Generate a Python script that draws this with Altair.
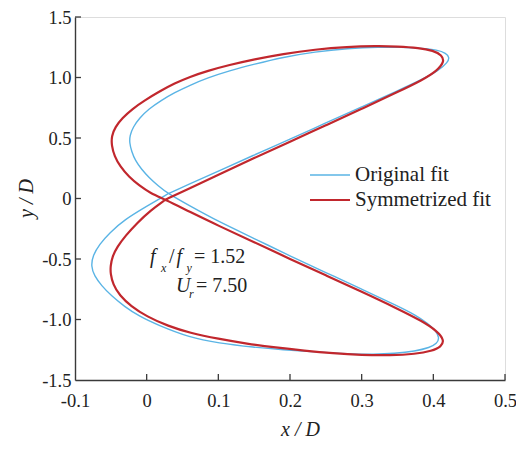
import altair as alt
import pandas as pd

# ---------------- data ----------------
series_names = ["Original fit", "Symmetrized fit"]
series_colors = ["#5AB4E5", "#C1272D"]
series_widths = [1.4, 2.2]

orig_x = [0.030, 0.060, 0.100, 0.150, 0.200, 0.250, 0.300, 0.350, 0.385, 0.408, 0.420, 0.4226,
          0.418, 0.405, 0.385, 0.355, 0.325, 0.280, 0.235, 0.190, 0.150, 0.115, 0.085, 0.060,
          0.039, 0.020, 0.003, -0.010, -0.019, -0.0235, -0.024, -0.021, -0.016, -0.007, 0.003,
          0.016, 0.030,
          0.060, 0.100, 0.150, 0.200, 0.250, 0.300, 0.350, 0.375, 0.392, 0.403, 0.4087,
          0.405, 0.395, 0.375, 0.345, 0.318, 0.280, 0.235, 0.190, 0.150, 0.100, 0.060, 0.015,
          -0.010, -0.031, -0.050, -0.063, -0.073, -0.0777, -0.075, -0.066, -0.052, -0.031,
          0.000, 0.030]
orig_y = [0.040, 0.120, 0.225, 0.360, 0.490, 0.625, 0.757, 0.890, 0.985, 1.060, 1.125, 1.165,
          1.202, 1.228, 1.242, 1.250, 1.252, 1.240, 1.212, 1.168, 1.110, 1.055, 0.997, 0.935,
          0.875, 0.810, 0.740, 0.665, 0.590, 0.520, 0.460, 0.390, 0.315, 0.240, 0.175,
          0.105, 0.040,
          -0.060, -0.190, -0.330, -0.475, -0.612, -0.748, -0.888, -0.962, -1.030, -1.090, -1.150,
          -1.200, -1.232, -1.262, -1.281, -1.288, -1.284, -1.268, -1.250, -1.230, -1.195, -1.150, -1.045,
          -0.975, -0.893, -0.800, -0.720, -0.640, -0.560, -0.470, -0.380, -0.285, -0.175,
          -0.065, 0.040]

sym_x = [0.026, 0.060, 0.100, 0.150, 0.200, 0.250, 0.300, 0.350, 0.385, 0.405, 0.4155,
         0.412, 0.400, 0.380, 0.350, 0.320, 0.280, 0.235, 0.190, 0.150, 0.115, 0.085, 0.060,
         0.039, 0.018, -0.003, -0.020, -0.034, -0.044, -0.049, -0.049, -0.045, -0.037, -0.025,
         -0.010, 0.005, 0.026,
         0.060, 0.100, 0.150, 0.200, 0.250, 0.300, 0.350, 0.385, 0.405, 0.4155,
         0.411, 0.398, 0.375, 0.340, 0.300, 0.260, 0.220, 0.180, 0.140, 0.100, 0.060, 0.030,
         0.000, -0.022, -0.038, -0.047, -0.0505, -0.0505, -0.048, -0.041, -0.030, -0.013,
         0.005, 0.026]
sym_y = [-0.010, 0.085, 0.195, 0.335, 0.470, 0.605, 0.740, 0.880, 0.980, 1.055, 1.130,
         1.185, 1.222, 1.245, 1.257, 1.260, 1.254, 1.232, 1.195, 1.150, 1.103, 1.055, 1.005,
         0.952, 0.885, 0.810, 0.740, 0.665, 0.590, 0.515, 0.440, 0.350, 0.265, 0.180,
         0.105, 0.045, -0.010,
         -0.110, -0.225, -0.360, -0.500, -0.635, -0.770, -0.910, -1.015, -1.095, -1.170,
         -1.225, -1.260, -1.285, -1.297, -1.294, -1.280, -1.258, -1.232, -1.200, -1.160, -1.110, -1.055,
         -0.975, -0.890, -0.800, -0.710, -0.620, -0.560, -0.480, -0.400, -0.310, -0.200,
         -0.100, -0.010]

x_ticks = [0, 0.1, 0.2, 0.3, 0.4, 0.5]
y_ticks = [-1.0, -0.5, 0, 0.5, 1.0, 1.5]
x_labels = [-0.1, 0, 0.1, 0.2, 0.3, 0.4, 0.5]
y_labels = [-1.5, -1.0, -0.5, 0, 0.5, 1.0, 1.5]

ann_text = ["f", "x", "/", "f", "y", "= 1.52", "U", "r", "= 7.50"]
ann_x = [0.0046, 0.0200, 0.0312, 0.0416, 0.0556, 0.0660, 0.0409, 0.0590, 0.0688]
ann_y = [-0.536, -0.605, -0.536, -0.536, -0.605, -0.536, -0.770, -0.822, -0.770]
ann_kind = ["it", "sub", "up", "it", "sub", "up", "it", "sub", "up"]

# ---------------- layout / style ----------------
PW, PH = 430, 363
FONT = "Liberation Serif"
AXC = "#3a3a3a"
TICK = 6

XS = alt.Scale(domain=[-0.1, 0.5], nice=False, zero=False)
YS = alt.Scale(domain=[-1.5, 1.5], nice=False, zero=False)

lab = "datum.value == 0 ? '0' : (datum.value < 0 ? '-' : '') + format(abs(datum.value), '.1f')"

XAX = alt.Axis(values=x_labels, labelExpr=lab, ticks=False, tickSize=0, grid=False,
               domainColor=AXC, domainWidth=1.4, labelFont=FONT, labelFontSize=18.5,
               labelColor="#222", labelPadding=11, labelFlush=False,
               title="x / D", titleFont=FONT, titleFontStyle="italic", titleFontWeight="normal",
               titleFontSize=20, titleColor="#222", titleX=225, titleY=55,
               titleBaseline="alphabetic", titleAlign="center")
YAX = alt.Axis(values=y_labels, labelExpr=lab, ticks=False, tickSize=0, grid=False,
               domainColor=AXC, domainWidth=1.4, labelFont=FONT, labelFontSize=18.5,
               labelColor="#222", labelPadding=4, labelFlush=False,
               title="y / D", titleFont=FONT, titleFontStyle="italic", titleFontWeight="normal",
               titleFontSize=20, titleColor="#222", titleX=-43, titleY=181, titleAngle=-90,
               titleBaseline="alphabetic", titleAlign="center")


def X(field):
    return alt.X(field, type="quantitative", scale=XS, axis=XAX)


def Y(field):
    return alt.Y(field, type="quantitative", scale=YS, axis=YAX)


layers = []
for name, xs, ys, col, w in zip(series_names, [orig_x, sym_x], [orig_y, sym_y],
                                series_colors, series_widths):
    df = pd.DataFrame({"x": xs, "y": ys, "i": list(range(len(xs)))})
    layers.append(
        alt.Chart(df).mark_line(color=col, strokeWidth=w, interpolate="basis")
        .encode(x=X("x"), y=Y("y"), order=alt.Order("i:Q"))
    )

# inward ticks
layers.append(
    alt.Chart(pd.DataFrame({"x": x_ticks})).mark_rule(color=AXC, strokeWidth=1.3)
    .encode(x=X("x"), y=alt.value(PH), y2=alt.value(PH - TICK))
)
layers.append(
    alt.Chart(pd.DataFrame({"y": y_ticks})).mark_rule(color=AXC, strokeWidth=1.3)
    .encode(y=Y("y"), x=alt.value(0), x2=alt.value(TICK))
)

# annotation
ann = pd.DataFrame({"t": ann_text, "x": ann_x, "y": ann_y, "k": ann_kind})
styles = {"it": dict(fontStyle="italic", fontSize=20),
          "sub": dict(fontStyle="italic", fontSize=12),
          "up": dict(fontStyle="normal", fontSize=20)}
for k, st in styles.items():
    layers.append(
        alt.Chart(ann[ann.k == k]).mark_text(align="left", baseline="alphabetic", font=FONT,
                                              color="#222", **st)
        .encode(x=X("x"), y=Y("y"), text="t:N")
    )

# legend (manual)
LEG_X0, LEG_Y0, LEG_DY, LEG_LEN = 235, 158, 25, 40
for i, (name, col, w) in enumerate(zip(series_names, series_colors, series_widths)):
    d = pd.DataFrame({"s": [name]})
    ly = LEG_Y0 + i * LEG_DY
    layers.append(
        alt.Chart(d).mark_rule(color=col, strokeWidth=w)
        .encode(x=alt.value(LEG_X0), x2=alt.value(LEG_X0 + LEG_LEN), y=alt.value(ly))
    )
    layers.append(
        alt.Chart(d).mark_text(align="left", baseline="middle", font=FONT, fontSize=21, color="#222")
        .encode(x=alt.value(LEG_X0 + LEG_LEN + 5), y=alt.value(ly), text="s:N")
    )

chart = alt.layer(*layers).properties(
    width=PW, height=PH,
    autosize=alt.AutoSizeParams(type="none"),
    padding={"left": 67, "top": 9, "right": 11, "bottom": 61},
).configure_view(stroke=None).configure(background="white")

chart.save("out.html", embed_options={"renderer": "svg", "actions": False})
